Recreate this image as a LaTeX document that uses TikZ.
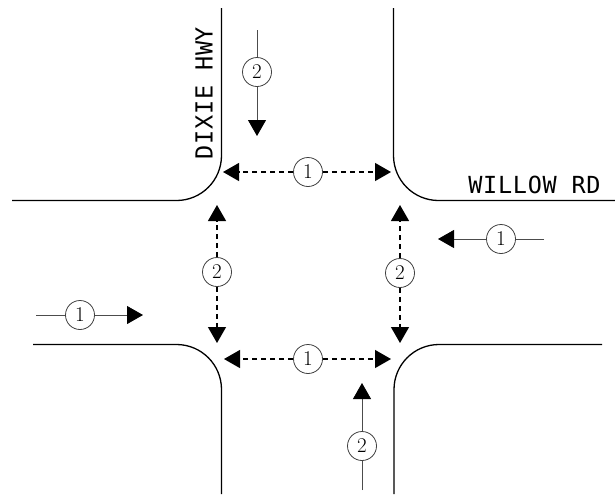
\documentclass[tikz,border=0pt]{standalone}
\usepackage{fontspec}
\usetikzlibrary{arrows.meta}
\newfontfamily\cadfont[LetterSpace=3]{DejaVu Sans Mono}

\begin{document}
\begin{tikzpicture}[x=1pt, y=-1pt, >={Triangle[length=16pt, width=18pt, black]},
  curb/.style={line width=1.3pt, black, rounded corners=45pt},
  phase/.style={circle, draw=black!75, line width=0.8pt, fill=white, minimum size=29pt, inner sep=0pt, font=\fontsize{21}{21}\selectfont},
  roadname/.style={inner sep=0pt, font=\cadfont\fontsize{23.5}{24}\selectfont},
  flow/.style={draw=black!70, line width=0.8pt},
  ped/.style={->, draw=black, line width=1.2pt, dash pattern=on 5pt off 4pt}]
  \useasboundingbox (0,0) rectangle (615,496);
  % curbs
  \draw[curb] (221.5,8) |- (12,200.5);
  \draw[curb] (393.5,8) |- (615,200.5);
  \draw[curb] (33,344.5) -| (221.5,494);
  \draw[curb] (602,344.5) -| (394,494);
  % street names
  \node[roadname, rotate=90] (dixie) at (204,93) {DIXIE HWY};
  \node[roadname] (willow) at (534.5,184.5) {WILLOW RD};
  % vehicle phases
  \node[phase] (p2n) at (257,72) {2};
  \coordinate (p2n-from) at (257,30);
  \coordinate (p2n-to) at (257,136);
  \draw[flow] (p2n-from) -- (p2n);
  \draw[flow, ->] (p2n) -- (p2n-to);
  \node[phase] (p2s) at (362,446) {2};
  \coordinate (p2s-from) at (362,490);
  \coordinate (p2s-to) at (362,383);
  \draw[flow] (p2s-from) -- (p2s);
  \draw[flow, ->] (p2s) -- (p2s-to);
  \node[phase] (p1e) at (501,239) {1};
  \coordinate (p1e-from) at (544,239);
  \coordinate (p1e-to) at (438,239);
  \draw[flow] (p1e-from) -- (p1e);
  \draw[flow, ->] (p1e) -- (p1e-to);
  \node[phase] (p1w) at (80,315) {1};
  \coordinate (p1w-from) at (36,315);
  \coordinate (p1w-to) at (143,315);
  \draw[flow] (p1w-from) -- (p1w);
  \draw[flow, ->] (p1w) -- (p1w-to);
  % pedestrian phases
  \node[phase] (x1n) at (308,172) {1};
  \coordinate (x1n-a) at (223,172);
  \coordinate (x1n-b) at (391,172);
  \draw[ped] (x1n) -- (x1n-a);
  \draw[ped] (x1n) -- (x1n-b);
  \node[phase] (x1s) at (308,359) {1};
  \coordinate (x1s-a) at (224,359);
  \coordinate (x1s-b) at (391,359);
  \draw[ped] (x1s) -- (x1s-a);
  \draw[ped] (x1s) -- (x1s-b);
  \node[phase] (x2w) at (217,272) {2};
  \coordinate (x2w-a) at (217,205);
  \coordinate (x2w-b) at (217,343);
  \draw[ped] (x2w) -- (x2w-a);
  \draw[ped] (x2w) -- (x2w-b);
  \node[phase] (x2e) at (400,273) {2};
  \coordinate (x2e-a) at (400,205);
  \coordinate (x2e-b) at (400,343);
  \draw[ped] (x2e) -- (x2e-a);
  \draw[ped] (x2e) -- (x2e-b);
\end{tikzpicture}
\end{document}
